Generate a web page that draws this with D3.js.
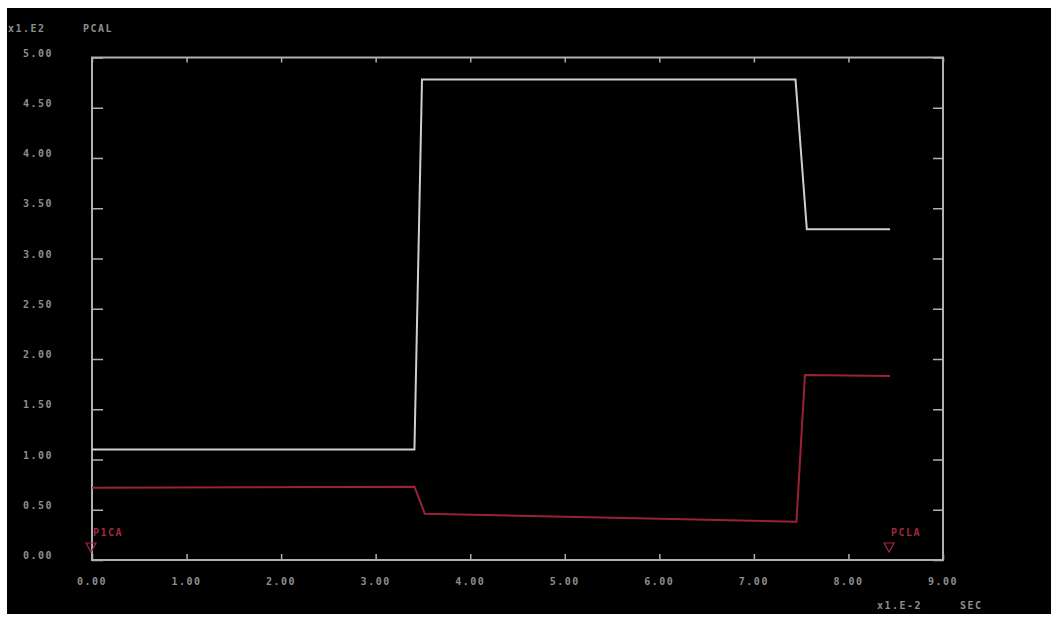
<!DOCTYPE html>
<html>
<head>
<meta charset="utf-8">
<script src="https://cdn.jsdelivr.net/npm/d3@7"></script>
<style>
  html, body { margin: 0; padding: 0; background: #ffffff; }
  svg { display: block; }
  .lbl { font-family: "DejaVu Sans Mono", monospace; font-weight: bold; font-size: 10px; letter-spacing: 1.5px; fill: #8e8e8e; }
</style>
</head>
<body>
<script>
// Trace values (time in units of 1e-2 s, signal in units of 1e2)
const timeA   = [0.00, 3.41, 3.49, 7.44, 7.56, 8.44];
const traceA  = [1.10, 1.10, 4.78, 4.78, 3.29, 3.29];
const timeB   = [0.00, 3.41, 3.52, 4.50, 5.50, 6.50, 7.45, 7.54, 8.44];
const traceB  = [0.72, 0.73, 0.46, 0.44, 0.42, 0.40, 0.38, 1.84, 1.83];
const xTicks  = [0, 1, 2, 3, 4, 5, 6, 7, 8, 9];
const yTicks  = [0, 0.5, 1, 1.5, 2, 2.5, 3, 3.5, 4, 4.5, 5];
const cursors = [{ t: 0.00, name: "P1CA" }, { t: 8.44, name: "PCLA" }];
const yScaleLabel = "x1.E2", yName = "PCAL";
const xScaleLabel = "x1.E-2", xName = "SEC";

const W = 1058, H = 619;
const svg = d3.select("body").append("svg").attr("width", W).attr("height", H);

// dark screen area
svg.append("rect").attr("x", 7).attr("y", 8).attr("width", 1044).attr("height", 606).attr("fill", "#000");

const x = d3.scaleLinear().domain([0, 9]).range([92, 943]);
const y = d3.scaleLinear().domain([0, 5]).range([560, 57.5]);
const fmt = d3.format(".2f");
const frameCol = "#b0b0b0";

function styleAxis(g) {
  g.select(".domain").remove();
  g.selectAll(".tick line").attr("stroke", frameCol).attr("stroke-width", 1.5);
  g.selectAll(".tick text").remove();
}

// inward ticks on all four sides
svg.append("g").attr("transform", `translate(0,${y(0)})`)
  .call(d3.axisBottom(x).tickValues(xTicks).tickSize(-6)).call(styleAxis);
svg.append("g").attr("transform", `translate(0,${y(5)})`)
  .call(d3.axisTop(x).tickValues(xTicks).tickSize(-5)).call(styleAxis);
svg.append("g").attr("transform", `translate(${x(0)},0)`)
  .call(d3.axisLeft(y).tickValues(yTicks).tickSize(-11)).call(styleAxis);
svg.append("g").attr("transform", `translate(${x(9)},0)`)
  .call(d3.axisRight(y).tickValues(yTicks).tickSize(-10)).call(styleAxis);

// frame
svg.append("rect")
  .attr("x", x(0)).attr("y", y(5)).attr("width", x(9) - x(0)).attr("height", y(0) - y(5))
  .attr("fill", "none").attr("stroke", frameCol).attr("stroke-width", 2);

// tick labels
svg.selectAll(".xl").data(xTicks).join("text").attr("class", "lbl")
  .attr("x", d => x(d)).attr("y", y(0) + 25).attr("text-anchor", "middle").text(d => fmt(d));
svg.selectAll(".yl").data(yTicks).join("text").attr("class", "lbl")
  .attr("x", 23).attr("y", d => y(d) - 1).text(d => fmt(d));

// scale / unit annotations
svg.append("text").attr("class", "lbl").attr("x", 8).attr("y", 32).text(yScaleLabel);
svg.append("text").attr("class", "lbl").attr("x", 83).attr("y", 32).text(yName);
svg.append("text").attr("class", "lbl").attr("x", 877).attr("y", 609).text(xScaleLabel);
svg.append("text").attr("class", "lbl").attr("x", 960).attr("y", 609).text(xName);

// traces
const lineA = d3.line().x((d, i) => x(timeA[i])).y(d => y(d));
const lineB = d3.line().x((d, i) => x(timeB[i])).y(d => y(d));
svg.append("path").attr("d", lineA(traceA)).attr("fill", "none")
  .attr("stroke", "#cfcfcf").attr("stroke-width", 2);
svg.append("path").attr("d", lineB(traceB)).attr("fill", "none")
  .attr("stroke", "#9a2238").attr("stroke-width", 2);

// cursor markers
const cur = svg.selectAll(".cur").data(cursors).join("g");
cur.append("path")
  .attr("d", d => { const cx = x(d.t) - 1, cy = y(0) - 13; return `M${cx-5},${cy-4}L${cx+5},${cy-4}L${cx},${cy+5}Z`; })
  .attr("fill", "none").attr("stroke", "#a3283e").attr("stroke-width", 1.2);
cur.append("text").attr("class", "lbl").style("fill", "#a3283e")
  .attr("x", d => x(d.t) + 1).attr("y", y(0) - 24).text(d => d.name);
</script>
</body>
</html>
